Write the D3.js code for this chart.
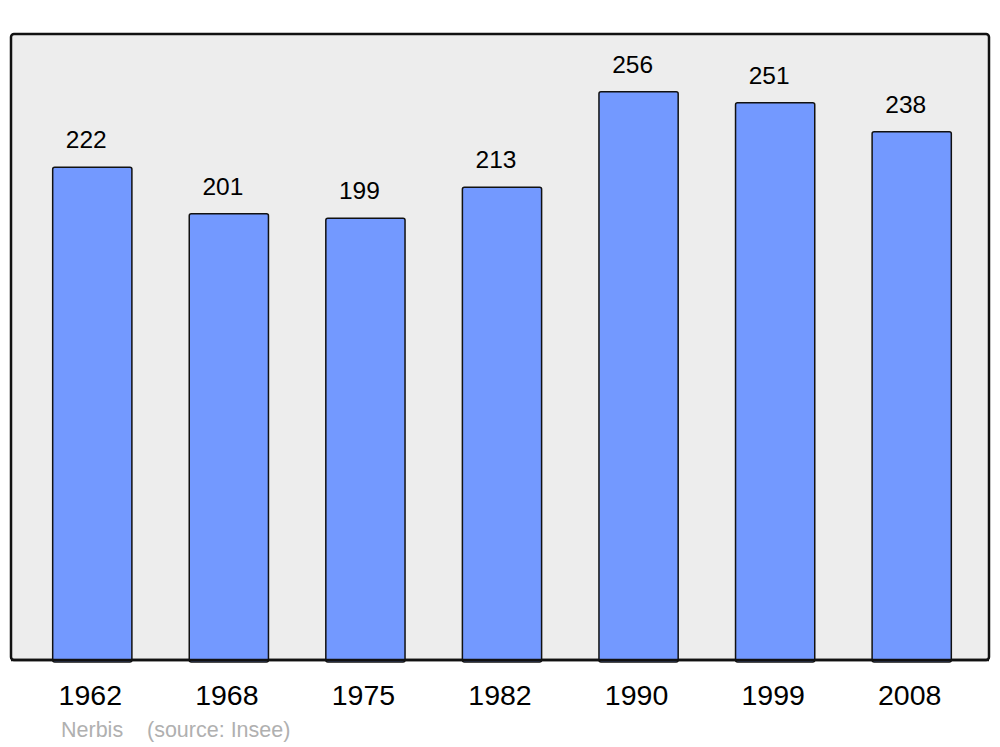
<!DOCTYPE html>
<html>
<head>
<meta charset="utf-8">
<script src="https://cdn.jsdelivr.net/npm/d3@7"></script>
<style>
  body { margin: 0; background: #fff; }
  text { font-family: "Liberation Sans", Arial, sans-serif; }
</style>
</head>
<body>
<div id="chart"></div>
<script>
var years = ["1962", "1968", "1975", "1982", "1990", "1999", "2008"];
var population = [222, 201, 199, 213, 256, 251, 238];

var width = 1000, height = 747;
var panel = { left: 11, top: 34, right: 989, bottom: 660 };

var svg = d3.select("#chart").append("svg")
    .attr("width", width)
    .attr("height", height);

// background panel
svg.append("rect")
    .attr("x", panel.left)
    .attr("y", panel.top)
    .attr("width", panel.right - panel.left)
    .attr("height", panel.bottom - panel.top)
    .attr("rx", 3)
    .attr("fill", "#ededed")
    .attr("stroke", "#111")
    .attr("stroke-width", 2.5);

var x = d3.scaleBand()
    .domain(years)
    .range([24, 980])
    .paddingInner(0.42)
    .paddingOuter(0.21);

var y = d3.scaleLinear()
    .domain([0, 282])
    .range([panel.bottom, panel.top]);

svg.append("g").selectAll("rect")
    .data(population)
    .enter().append("rect")
    .attr("x", function(d, i) { return x(years[i]); })
    .attr("y", function(d) { return y(d); })
    .attr("width", x.bandwidth())
    .attr("height", function(d) { return panel.bottom - y(d) + 2; })
    .attr("rx", 2)
    .attr("fill", "#7399ff")
    .attr("stroke", "#111")
    .attr("stroke-width", 1.5);

// redraw bottom border over bars
svg.append("line")
    .attr("x1", panel.left).attr("x2", panel.right)
    .attr("y1", panel.bottom).attr("y2", panel.bottom)
    .attr("stroke", "#111")
    .attr("stroke-width", 2.5);

svg.append("g").selectAll("text")
    .data(population)
    .enter().append("text")
    .attr("x", function(d, i) { return x(years[i]) + x.bandwidth() / 2 - 6; })
    .attr("y", function(d) { return y(d) - 19; })
    .attr("text-anchor", "middle")
    .attr("font-size", 24.5)
    .attr("fill", "#000")
    .text(function(d) { return d; });

svg.append("g").selectAll("text")
    .data(years)
    .enter().append("text")
    .attr("x", function(d) { return x(d) + x.bandwidth() / 2 - 2; })
    .attr("y", 705)
    .attr("text-anchor", "middle")
    .attr("font-size", 28.5)
    .attr("fill", "#000")
    .text(function(d) { return d; });

svg.append("text")
    .attr("x", 61).attr("y", 737)
    .attr("font-size", 21.5)
    .attr("fill", "#b0b0b0")
    .text("Nerbis");

svg.append("text")
    .attr("x", 147).attr("y", 737)
    .attr("font-size", 21.5)
    .attr("fill", "#b0b0b0")
    .text("(source: Insee)");
</script>
</body>
</html>
